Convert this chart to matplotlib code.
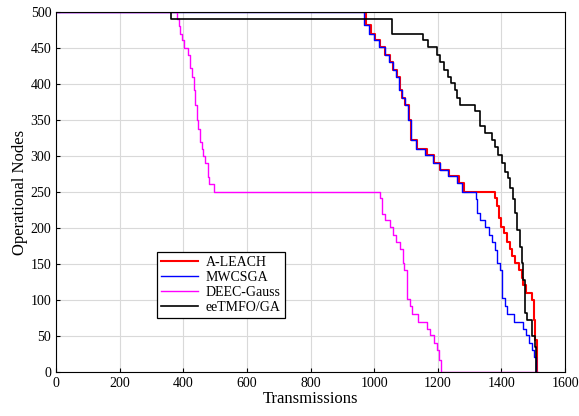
import numpy as np
import matplotlib.pyplot as plt

plt.rcParams['font.family'] = ['Liberation Serif', 'DejaVu Serif']

# step curves: x where the level changes, y is the level after the change
aleach_x = [0, 975, 989, 1003, 1017, 1035, 1048, 1060, 1071, 1080, 1087, 1097, 1108, 1116, 1134,
            1166, 1188, 1208, 1236, 1268, 1283, 1380, 1386, 1391, 1398, 1407, 1417, 1428, 1433,
            1443, 1454, 1464, 1469, 1478, 1496, 1501, 1506, 1512]
aleach_y = [500, 482, 470, 461, 452, 440, 431, 419, 410, 392, 380, 371, 350, 322, 310,
            301, 290, 281, 272, 262, 250, 241, 230, 214, 202, 193, 181, 171, 161,
            151, 142, 130, 121, 110, 100, 72, 44, 0]

mwcsga_x = [0, 968, 985, 1000, 1015, 1033, 1046, 1058, 1069, 1078, 1086, 1096, 1106, 1114, 1132,
            1160, 1185, 1206, 1232, 1260, 1276, 1320, 1323, 1333, 1347, 1360, 1370, 1380, 1386,
            1394, 1401, 1412, 1417, 1438, 1467, 1478, 1488, 1496, 1501, 1509]
mwcsga_y = [500, 482, 470, 461, 452, 440, 431, 419, 410, 392, 380, 371, 350, 322, 310,
            301, 290, 281, 272, 262, 250, 240, 221, 211, 202, 190, 181, 170, 151,
            142, 102, 91, 81, 70, 60, 51, 40, 31, 21, 0]

deec_x = [0, 379, 385, 390, 395, 403, 413, 421, 427, 432, 437, 442, 447, 453, 458, 463, 469,
          476, 482, 495, 514, 1019, 1024, 1035, 1048, 1060, 1069, 1082, 1090, 1095, 1103,
          1111, 1118, 1139, 1165, 1176, 1187, 1197, 1205, 1211, 1515]
deec_y = [500, 491, 481, 470, 461, 450, 440, 422, 410, 392, 371, 350, 338, 320, 310, 300,
          290, 271, 261, 250, 250, 241, 220, 211, 202, 190, 181, 171, 151, 142, 101,
          91, 81, 70, 60, 51, 40, 31, 17, 0, 0]

eetmfo_x = [0, 362, 1057, 1153, 1170, 1197, 1208, 1218, 1233, 1242, 1255, 1260, 1270, 1318,
            1333, 1349, 1370, 1380, 1390, 1401, 1412, 1422, 1428, 1437, 1443, 1449, 1459,
            1464, 1469, 1475, 1480, 1496, 1506, 1510]
eetmfo_y = [500, 490, 470, 461, 452, 440, 431, 420, 410, 401, 392, 381, 371, 362,
            341, 332, 322, 312, 301, 290, 278, 269, 255, 240, 221, 197, 174,
            151, 128, 82, 72, 50, 35, 0]

fig, ax = plt.subplots(figsize=(5.79, 4.16), dpi=100)
fig.subplots_adjust(left=0.097, right=0.976, top=0.971, bottom=0.106)

ax.step(aleach_x, aleach_y, where='post', color='#ff0000', lw=1.5, label='A-LEACH')
ax.step(mwcsga_x, mwcsga_y, where='post', color='#0000ff', lw=1.0, label='MWCSGA')
ax.step(deec_x, deec_y, where='post', color='#ff00ff', lw=1.0, label='DEEC-Gauss')
ax.step(eetmfo_x, eetmfo_y, where='post', color='black', lw=1.2, label='eeTMFO/GA')

ax.set_xlim(0, 1600)
ax.set_ylim(0, 500)
ax.set_xticks(np.arange(0, 1601, 200))
ax.set_yticks(np.arange(0, 501, 50))
ax.grid(True, color='#d9d9d9', lw=0.8)
ax.set_axisbelow(True)
ax.tick_params(direction='in', labelsize=10, length=3)
ax.set_xlabel('Transmissions', fontsize=12, labelpad=1)
ax.set_ylabel('Operational Nodes', fontsize=12, labelpad=2)

leg = ax.legend(loc='lower left', bbox_to_anchor=(0.185, 0.13), fontsize=10,
                fancybox=False, edgecolor='black', framealpha=1,
                handlelength=2.6, borderpad=0.3, labelspacing=0.15, handletextpad=0.6)
leg.get_frame().set_linewidth(0.9)

fig.savefig('out.png', dpi=100)
